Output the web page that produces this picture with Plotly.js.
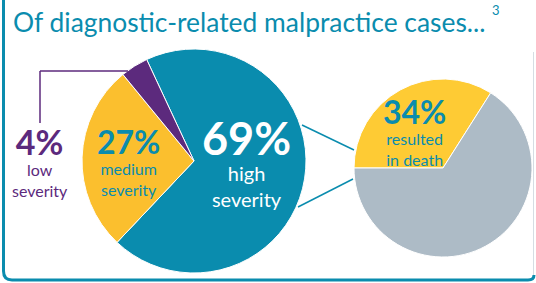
<!DOCTYPE html>
<html>
<head>
<meta charset="utf-8">
<script src="https://cdn.plot.ly/plotly-3.0.1.min.js"></script>
<style>html,body{margin:0;padding:0;background:#fff}#chart{width:536px;height:283px}</style>
</head>
<body>
<div id="chart"></div>
<script>
// Data
const severityLabels = ["high severity", "medium severity", "low severity"];
const severityValues = [69, 27, 4];
const outcomeLabels = ["resulted in death", "other"];
const outcomeValues = [34, 66];
const titleText = "Of diagnostic-related malpractice cases...";
const titleNote = "3";

const W = 536, H = 283;
const TEAL = "#0a8cae", YEL = "#fbbf2e", PUR = "#5c2a7d", GRAY = "#adbbc6", YEL2 = "#fecb34";
const px = x => x / W, py = y => 1 - y / H;
const FONT = "Lato, 'Open Sans', sans-serif";

const data = [
  {
    type: "pie", labels: severityLabels, values: severityValues, sort: false,
    direction: "clockwise", rotation: -25, textinfo: "none", hoverinfo: "label+percent",
    marker: { colors: [TEAL, YEL, PUR], line: { color: "#fff", width: 1 } },
    domain: { x: [px(82), px(306)], y: [py(273), py(49)] }, showlegend: false
  },
  {
    type: "pie", labels: outcomeLabels, values: outcomeValues, sort: false,
    direction: "clockwise", rotation: -90, textinfo: "none", hoverinfo: "label+percent",
    marker: { colors: [YEL2, GRAY], line: { color: "#fff", width: 1 } },
    domain: { x: [px(354), px(532)], y: [py(257), py(79)] }, showlegend: false
  }
];

// one annotation per label block: big bold percentage + smaller description lines
function block(x, y, value, desc, bigSize, size, color) {
  return { xref: "paper", yref: "paper", x: px(x), y: py(y), xanchor: "center", yanchor: "middle",
    showarrow: false, align: "center",
    text: "<span style='font-size:" + bigSize + "px'><b>" + value + "%</b></span><br>" + desc.join("<br>"),
    font: { family: FONT, size: size, color: color } };
}
const annotations = [
  { xref: "paper", yref: "paper", x: px(11), y: py(22), xanchor: "left", yanchor: "middle", showarrow: false,
    text: titleText, font: { family: FONT, size: 26.4, color: TEAL } },
  { xref: "paper", yref: "paper", x: px(496), y: py(10), xanchor: "center", yanchor: "middle", showarrow: false,
    text: titleNote, font: { family: FONT, size: 13, color: TEAL } },
  block(40, 160, severityValues[2], ["low", "severity"], 34, 16, PUR),
  block(128, 160, severityValues[1], ["medium", "severity"], 32, 16, TEAL),
  block(246, 161, severityValues[0], ["high", "severity"], 45, 20, "#fff"),
  block(414, 130.5, outcomeValues[0], ["resulted", "in death"], 32, 16, TEAL)
];

const line = (x0, y0, x1, y1, color, w) => ({ type: "line", xref: "paper", yref: "paper",
  x0: px(x0), y0: py(y0), x1: px(x1), y1: py(y1), line: { color: color, width: w } });
const shapes = [
  { type: "path", xref: "paper", yref: "paper",
    path: `M ${px(3.5)} ${py(0)} L ${px(3.5)} ${py(271)} Q ${px(3.5)} ${py(280)} ${px(12)} ${py(280)} L ${px(528)} ${py(280)} Q ${px(534)} ${py(280)} ${px(534)} ${py(275)}`,
    line: { color: TEAL, width: 3 } },
  line(533.5, 52, 533.5, 275, "#d5dde3", 1),
  line(40, 123, 40, 71, PUR, 1.5),
  line(40, 71, 128, 71, PUR, 1.5),
  line(302, 125, 354, 150, TEAL, 1.5),
  line(298, 207, 353, 179, TEAL, 1.5)
];

const layout = {
  width: W, height: H, margin: { l: 0, r: 0, t: 0, b: 0 },
  paper_bgcolor: "#fff", plot_bgcolor: "#fff", showlegend: false,
  annotations: annotations, shapes: shapes
};
Plotly.newPlot("chart", data, layout, { displayModeBar: false, staticPlot: true });
</script>
</body>
</html>
